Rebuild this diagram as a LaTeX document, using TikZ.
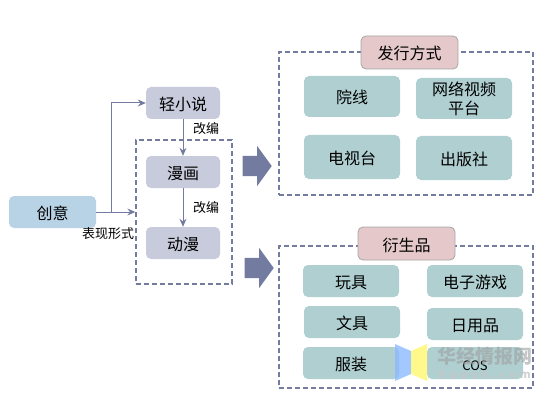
\documentclass[tikz,border=0pt]{standalone}
\usepackage{fontspec}
\setmainfont{Noto Sans CJK SC}
\usepackage{tikz}
\usetikzlibrary{arrows.meta, positioning, shapes.arrows}
\definecolor{ideablue}{HTML}{B8D3E5}
\definecolor{stagegray}{HTML}{C7CBDB}
\definecolor{itemteal}{HTML}{B0CFD1}
\definecolor{titlepink}{HTML}{E5C8C9}
\definecolor{flowblue}{HTML}{737BA0}

\begin{document}
\begin{tikzpicture}[
  x=1pt, y=-1pt,
  font=\fontsize{16}{19}\selectfont,
  softbox/.style={rounded corners=5pt, inner sep=0pt, align=center,
                  text height=15pt, text depth=0pt},
  stagebox/.style={softbox, fill=stagegray, minimum width=74pt, minimum height=32pt},
  itembox/.style={softbox, fill=itemteal, minimum width=96pt, minimum height=32pt},
  titlebox/.style={softbox, fill=titlepink, draw=gray!70, line width=0.8pt,
                   minimum width=97pt, minimum height=33pt},
  groupbox/.style={draw=flowblue, line width=1.3pt, inner sep=0pt,
                   dash pattern=on 5pt off 3pt},
  arr/.style={-{Stealth[length=8pt, width=7pt]}, draw=flowblue, line width=1pt},
  bigarrow/.style={single arrow, fill=flowblue, inner xsep=0pt, inner ysep=10pt,
                   minimum width=40pt, minimum height=29pt,
                   single arrow head extend=10pt, single arrow tip angle=108,
                   single arrow head indent=0pt},
  small/.style={font=\fontsize{13}{15}\selectfont, inner sep=0pt}
]
\useasboundingbox (0,0) rectangle (554,401);

% dashed groups
\node[groupbox, minimum width=96pt, minimum height=144pt] (stages) at (184,212) {};
\node[groupbox, minimum width=254pt, minimum height=143pt] (release) at (406,123.5) {};
\node[groupbox, minimum width=254pt, minimum height=142pt] (goods) at (406,317) {};

% left part
\node[softbox, fill=ideablue, minimum width=87pt, minimum height=32pt] (idea) at (52.5,212) {创意};
\node[stagebox] (novel) at (183,103) {轻小说};
\node[stagebox] (manga) at (183,172) {漫画};
\node[stagebox] (anime) at (183,243) {动漫};

\coordinate (branch) at (111,212);
\draw[arr] (idea) -- (stages.west);
\draw[arr] (branch) |- (novel);
\draw[arr] (novel) -- (manga);
\draw[arr] (manga) -- (anime);

\node[small] (adapt1) at (206,129) {改编};
\node[small] (adapt2) at (206,208) {改编};
\node[small] (forms) at (108,234) {表现形式};

% big arrows
\node[bigarrow] (toprelease) at (253.5,166) {};
\node[bigarrow] (togoods) at (255.5,268) {};

% release
\node[titlebox] (releasetitle) at (409.5,52.5) {发行方式};
\node[itembox, minimum height=41pt] (cinema) at (352,96.5) {院线};
\node[itembox, minimum height=41pt, text height={}, text depth={}] (web) at (464,98.5) {网络视频\\平台};
\node[itembox, minimum height=44pt] (tv) at (352,157) {电视台};
\node[itembox, minimum height=44pt] (press) at (464,158) {出版社};

% goods
\node[titlebox] (goodstitle) at (406.5,243.5) {衍生品};
\node[itembox] (toys) at (351,281) {玩具};
\node[itembox] (games) at (475,281) {电子游戏};
\node[itembox] (stationery) at (352,322) {文具};
\node[itembox] (daily) at (475,324) {日用品};
\node[itembox] (clothes) at (351,363) {服装};
\node[itembox, font=\fontsize{13}{15}\selectfont] (cos) at (475,363) {COS};

% watermark
\fill[blue!60!cyan!45, opacity=0.8] (395,344) -- (411,351) -- (411,374) -- (395,381) -- cycle;
\fill[yellow!50, opacity=0.9] (411,351) -- (427,344) -- (427,381) -- (411,374) -- cycle;
\node[inner sep=0pt, text=gray!75, opacity=0.6, font=\fontsize{19}{19}\selectfont\bfseries] (markname) at (484.5,356) {华经情报网};
\node[inner sep=0pt, text=gray!45, opacity=0.8, font=\fontsize{11}{11}\selectfont\bfseries] (markurl) at (484.5,374) {h\,\,u\,\,a\,\,o\,\,n\,\,.\,\,c\,\,o\,\,m};
\end{tikzpicture}
\end{document}
